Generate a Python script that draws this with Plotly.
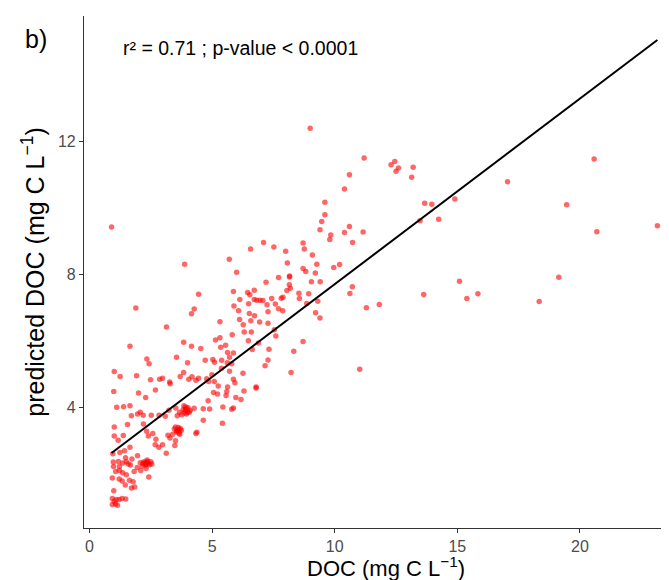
import plotly.graph_objects as go

doc_obs = [
    # lower-left cloud
    0.95, 0.97, 1.18, 0.98, 1.22, 1.36, 1.5, 1.58, 1.67, 1.43, 1.24, 1.65, 1.47, 1.73, 1.96, 2.07,
    2.16, 2.26, 2.37, 2.45, 2.54, 2.31, 2.09, 1.95, 1.82, 1.07, 1.22, 1.35, 1.5, 0.93, 1.21, 1.33,
    1.63, 1.78, 1.46, 1.84, 2.42, 1.71, 0.99, 0.93, 1.01, 1.09, 1.21, 1.33, 1.48, 0.93, 1.06, 1.14,
    2.22, 2.3, 2.35, 2.4, 2.28, 2.5, 2.18, 2.33,
    # 1-5 mg C L-1
    1.89, 4.27, 4.16, 3.14, 1.65, 3.84, 4.16, 4.54, 3.55, 4.0, 4.72, 2.34, 2.43, 1.01, 1.25, 1.92,
    2.49, 2.86, 2.98, 3.29, 3.7, 3.84, 4.05, 4.18, 4.34, 4.45, 4.78, 3.27, 2.69, 0.99, 2.0, 2.29,
    1.11, 1.39, 1.65, 1.96, 1.71, 2.07, 2.19, 2.52, 2.84, 3.09, 3.24, 3.52, 3.67, 3.76, 3.85, 3.95,
    4.07, 4.27, 3.58, 1.01, 1.01, 1.17, 1.38, 1.55, 2.2, 2.33, 2.4, 2.58, 2.71, 2.68, 2.98, 2.83,
    3.13, 3.48, 3.51, 3.28, 3.2, 3.39, 3.46, 3.56, 3.66, 3.51, 4.34,
    3.6, 3.65, 3.7, 3.55, 3.75, 3.62, 3.68,
    3.9, 3.95, 4.0, 3.88, 4.02, 3.92, 3.82, 4.1,
    4.84, 4.64, 4.9, 5.44, 5.8, 5.97, 6.18, 5.06, 5.22, 5.6, 5.57, 6.79, 6.3, 5.42, 4.64, 4.38, 5.87,
    # 5-12 mg C L-1
    10.4, 9.6, 9.6, 9.47, 9.4, 10.6, 10.4, 11.16, 9.84, 9.8, 10.73, 7.1, 6.57, 7.52, 8.0, 8.71,
    8.76, 9.09, 8.07, 9.27, 6.0, 8.71, 8.82, 9.96, 10.2, 8.16, 8.16, 7.71, 7.2, 8.15, 8.19, 8.05,
    9.05, 9.21, 9.41, 10.72, 10.62, 6.72, 6.45, 6.54, 5.87, 6.13, 6.49, 6.72, 6.82, 6.95, 7.07, 7.43,
    7.82, 7.89, 8.54, 8.56, 8.94, 8.86, 9.31, 7.24, 7.58, 7.71, 7.88, 5.89, 6.08, 6.52, 6.73, 7.28,
    9.22, 9.4, 11.29, 11.82, 6.12, 6.27, 6.58, 6.94, 7.28, 5.32, 6.31, 6.6, 5.82, 7.6, 7.54, 5.14,
    5.32, 6.48, 6.89, 5.55, 5.35, 6.64, 7.32, 8.71, 8.33, 5.63, 5.87, 5.71, 5.03, 5.39, 5.1, 5.62,
    7.28, 7.16, 5.8, 5.38, 5.71, 6.26, 8.22, 11.02, 4.99, 4.86, 5.09, 5.87, 5.93, 5.25, 5.63, 6.8,
    # right-hand outliers
    13.2, 13.14, 13.67, 13.96, 14.9, 13.48, 14.24, 17.05, 20.58, 19.46, 20.69, 23.16, 15.09, 13.63,
    15.39, 15.84, 19.14, 18.34,
    # upper points
    0.9, 3.88, 5.7, 4.45, 9.0, 10.6, 11.2, 12.3, 12.45, 12.6, 12.5,
]
doc_pred = [
    2.59, 2.34, 2.36, 2.21, 2.21, 2.31, 2.35, 2.28, 2.25, 2.68, 2.63, 2.79, 2.47, 2.43, 2.53, 2.32,
    2.22, 2.31, 2.36, 2.26, 2.28, 2.15, 2.09, 2.18, 2.06, 2.06, 2.09, 2.02, 1.96, 1.86, 1.83, 1.77,
    1.79, 1.75, 1.65, 1.59, 1.89, 1.56, 1.48, 1.24, 1.16, 1.21, 1.21, 1.24, 1.23, 1.06, 1.08, 1.04,
    2.35, 2.28, 2.4, 2.3, 2.25, 2.35, 2.3, 2.33,
    6.98, 6.95, 6.81, 6.41, 5.83, 5.95, 5.83, 5.76, 5.5, 5.33, 5.41, 5.45, 5.3, 5.07, 4.92, 4.94,
    4.82, 4.84, 4.87, 4.7, 4.92, 5.04, 4.84, 4.91, 4.81, 4.87, 4.85, 4.75, 4.51, 4.47, 4.42, 4.29,
    3.99, 4.01, 4.04, 3.79, 3.74, 3.84, 3.75, 3.75, 3.75, 3.72, 3.9, 3.97, 3.84, 3.77, 4.04, 3.79,
    3.84, 3.96, 3.74, 3.4, 3.13, 3.0, 3.14, 3.47, 3.49, 3.27, 3.13, 3.2, 3.03, 2.86, 2.86, 2.79,
    2.61, 2.84, 2.98, 3.07, 3.15, 3.18, 3.34, 3.25, 3.31, 3.4, 3.2,
    3.3, 3.22, 3.35, 3.28, 3.3, 3.38, 3.18,
    3.9, 3.95, 3.85, 3.82, 3.98, 4.0, 3.92, 3.9,
    4.19, 3.95, 3.94, 4.0, 3.93, 4.29, 4.23, 4.44, 4.39, 4.47, 4.35, 4.57, 4.48, 3.51, 3.6, 3.24, 3.97,
    10.57, 10.17, 9.79, 9.59, 9.34, 9.44, 9.26, 9.27, 9.18, 9.05, 8.96, 8.96, 8.76, 8.82, 8.69, 8.94,
    8.76, 8.58, 8.34, 8.3, 8.06, 8.17, 8.08, 8.2, 8.29, 7.92, 7.95, 7.9, 7.76, 7.68, 7.58, 7.51,
    7.77, 8.04, 7.77, 7.62, 7.42, 7.52, 7.45, 7.38, 7.48, 7.24, 7.11, 7.24, 7.22, 7.22, 7.21, 7.27,
    7.28, 7.31, 7.43, 7.27, 7.41, 7.12, 7.19, 7.08, 7.1, 6.96, 6.9, 7.04, 6.9, 6.82, 6.75, 6.87,
    6.84, 6.68, 6.99, 7.09, 6.64, 6.48, 6.6, 6.56, 6.52, 6.57, 6.26, 6.26, 6.18, 6.14, 6.33, 6.02,
    6.09, 6.0, 5.93, 5.86, 5.8, 5.73, 5.74, 5.97, 5.68, 5.64, 5.63, 5.5, 5.43, 5.41, 5.35, 5.33,
    5.42, 5.24, 5.3, 5.17, 5.08, 5.02, 5.04, 5.14, 4.97, 4.77, 4.77, 4.84, 4.73, 4.63, 4.6, 4.6,
    11.22, 10.92, 10.14, 10.11, 10.27, 9.61, 9.66, 10.79, 11.47, 10.09, 9.28, 9.46, 7.79, 7.39,
    7.27, 7.41, 7.91, 7.18,
    9.42, 8.3, 8.45, 7.4, 12.4, 11.0, 11.5, 11.3, 11.4, 11.2, 11.1,
]

# Fitted regression line
fit_slope = 0.559
fit_intercept = 2.11
stats_label = "r² = 0.71 ; p-value < 0.0001"
panel_label = "b)"
x_title = "DOC (mg C L<sup>−1</sup>)"
y_title = "predicted DOC (mg C L<sup>−1</sup>)"
x_ticks = [0, 5, 10, 15, 20]
y_ticks = [4, 8, 12]

line_x = [min(doc_obs), max(doc_obs)]
line_y = [fit_intercept + fit_slope * v for v in line_x]

FONT = "Liberation Sans, Arial, sans-serif"

fig = go.Figure()
fig.add_trace(go.Scatter(
    x=doc_obs, y=doc_pred, mode="markers",
    marker=dict(size=5.5, color="rgba(255,0,0,0.6)", line=dict(width=0)),
    showlegend=False, hoverinfo="x+y",
))
fig.add_trace(go.Scatter(
    x=line_x, y=line_y, mode="lines",
    line=dict(color="black", width=2),
    showlegend=False,
))

axis_common = dict(
    showgrid=False, zeroline=False, showline=True, linecolor="#333333", linewidth=1.2,
    ticks="outside", ticklen=4, tickwidth=1.2, tickcolor="#333333",
    tickfont=dict(family=FONT, size=16, color="#4D4D4D"),
)

fig.update_layout(
    width=669, height=580,
    margin=dict(l=76, r=0, t=8, b=60),
    plot_bgcolor="white", paper_bgcolor="white",
    font=dict(family=FONT, color="black"),
    xaxis=dict(
        range=[-0.224, 23.96], tickvals=x_ticks,
        **axis_common,
    ),
    yaxis=dict(
        range=[0.355, 15.78], tickvals=y_ticks,
        title=dict(text=y_title, font=dict(size=25, color="black"), standoff=6),
        **axis_common,
    ),
    annotations=[
        dict(text=x_title, xref="paper", yref="paper", x=0.509, y=-0.076,
             xanchor="center", yanchor="middle", showarrow=False,
             font=dict(size=22, color="black", family=FONT)),
        dict(text=stats_label, xref="paper", yref="paper", x=0.063, y=0.9375,
             xanchor="left", yanchor="middle", showarrow=False,
             font=dict(size=19.5, color="black", family=FONT)),
        dict(text=panel_label, xref="paper", yref="paper", x=-0.081, y=0.955,
             xanchor="center", yanchor="middle", showarrow=False,
             font=dict(size=25, color="black", family=FONT)),
    ],
)

fig.write_html("out.html")
